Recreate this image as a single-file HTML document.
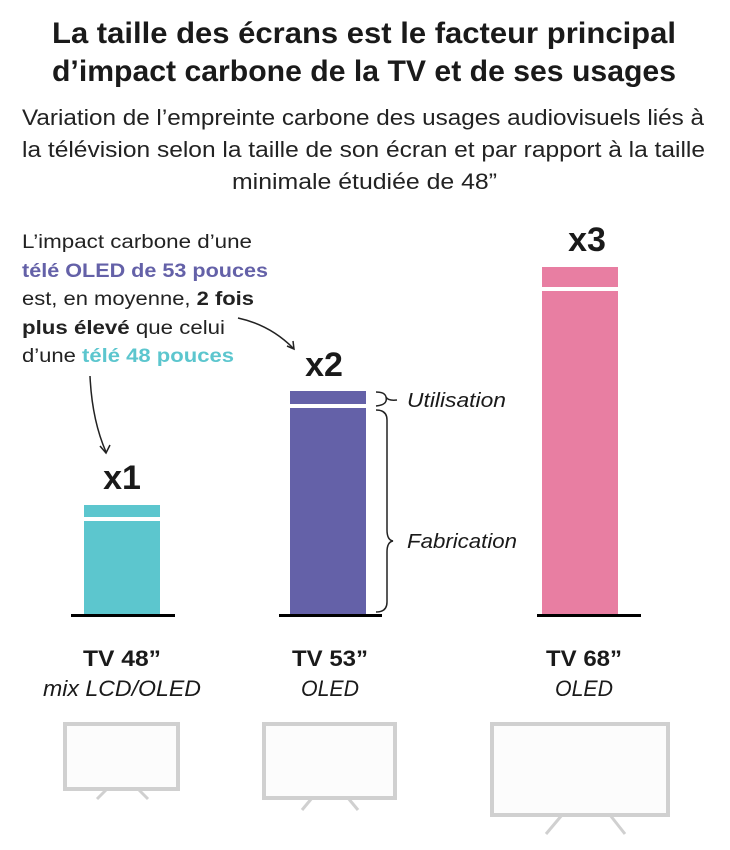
<!DOCTYPE html>
<html><head><meta charset="utf-8"><style>
html,body{margin:0;padding:0;background:#fff;}
svg{display:block;font-family:"Liberation Sans",sans-serif;}
</style></head><body>
<svg width="730" height="850" viewBox="0 0 730 850" xmlns="http://www.w3.org/2000/svg">
<g fill="#1a1a1a">
<text x="52" y="43" font-size="30" font-weight="bold" textLength="624" lengthAdjust="spacingAndGlyphs">La taille des écrans est le facteur principal</text>
<text x="52" y="81" font-size="30" font-weight="bold" textLength="624" lengthAdjust="spacingAndGlyphs">d’impact carbone de la TV et de ses usages</text>
<text x="22" y="125" font-size="22" textLength="682" lengthAdjust="spacingAndGlyphs" fill="#222">Variation de l’empreinte carbone des usages audiovisuels liés à</text>
<text x="22" y="157" font-size="22" textLength="683" lengthAdjust="spacingAndGlyphs" fill="#222">la télévision selon la taille de son écran et par rapport à la taille</text>
<text x="232" y="189" font-size="22" textLength="265" lengthAdjust="spacingAndGlyphs" fill="#222">minimale étudiée de 48”</text>
</g>
<g font-size="19" fill="#222">
<text x="22" y="248" textLength="230" lengthAdjust="spacingAndGlyphs">L’impact carbone d’une</text>
<text x="22" y="277" textLength="246" lengthAdjust="spacingAndGlyphs" font-weight="bold" fill="#6461a8">télé OLED de 53 pouces</text>
<text x="22" y="305" textLength="232" lengthAdjust="spacingAndGlyphs">est, en moyenne, <tspan font-weight="bold">2 fois</tspan></text>
<text x="22" y="334" textLength="203" lengthAdjust="spacingAndGlyphs"><tspan font-weight="bold">plus élevé</tspan> que celui</text>
<text x="22" y="362" textLength="212" lengthAdjust="spacingAndGlyphs">d’une <tspan font-weight="bold" fill="#5cc6ce">télé 48 pouces</tspan></text>
</g>
<g fill="none" stroke="#222" stroke-width="1.5">
<path d="M238 318 Q270 325 293 348"/><path d="M287 346 L294 349 L293 341"/>
<path d="M90 376 Q92 420 106 452"/><path d="M100 446 L106 453 L110 445"/>
<path d="M376 392 Q385 392 386 397 Q388 401 397 400 M386 397 Q388 405 376 406"/>
<path d="M376 410 Q387 410 387 420 L387 530 Q387 540 393 541 Q387 542 387 552 L387 602 Q387 612 376 612"/>
</g>
<g fill="#5cc6ce"><rect x="84" y="505" width="76" height="12"/><rect x="84" y="521" width="76" height="94"/></g>
<g fill="#6461a8"><rect x="290" y="391" width="76" height="13"/><rect x="290" y="408" width="76" height="207"/></g>
<g fill="#e87ea2"><rect x="542" y="267" width="76" height="20"/><rect x="542" y="291" width="76" height="324"/></g>
<g fill="#000"><rect x="71" y="614" width="104" height="3"/><rect x="279" y="614" width="103" height="3"/><rect x="537" y="614" width="104" height="3"/></g>
<g font-weight="bold" font-size="34" fill="#1a1a1a" text-anchor="middle">
<text x="122" y="489">x1</text><text x="324" y="376">x2</text><text x="587" y="251">x3</text>
</g>
<g font-size="20" font-style="italic" fill="#1a1a1a">
<text x="407" y="407" textLength="99" lengthAdjust="spacingAndGlyphs">Utilisation</text>
<text x="407" y="548" textLength="110" lengthAdjust="spacingAndGlyphs">Fabrication</text>
</g>
<g font-size="22" fill="#1a1a1a" text-anchor="middle">
<text x="122" y="666" font-weight="bold" textLength="78" lengthAdjust="spacingAndGlyphs">TV 48”</text>
<text x="122" y="696" font-style="italic" textLength="158" lengthAdjust="spacingAndGlyphs">mix LCD/OLED</text>
<text x="330" y="666" font-weight="bold" textLength="76" lengthAdjust="spacingAndGlyphs">TV 53”</text>
<text x="330" y="696" font-style="italic" textLength="58" lengthAdjust="spacingAndGlyphs">OLED</text>
<text x="584" y="666" font-weight="bold" textLength="76" lengthAdjust="spacingAndGlyphs">TV 68”</text>
<text x="584" y="696" font-style="italic" textLength="58" lengthAdjust="spacingAndGlyphs">OLED</text>
</g>
<g fill="#fcfcfc" stroke="#d0d0d0" stroke-width="4">
<rect x="65" y="724" width="113" height="65"/>
<path d="M97 799 L107 789 M148 799 L138 789" fill="none" stroke-width="3"/>
<rect x="264" y="724" width="131" height="74"/>
<path d="M302 810 L312 798 M358 810 L348 798" fill="none" stroke-width="3"/>
<rect x="492" y="724" width="176" height="91"/>
<path d="M546 834 L562 815 M625 834 L610 815" fill="none" stroke-width="3"/>
</g>
</svg>
</body></html>
